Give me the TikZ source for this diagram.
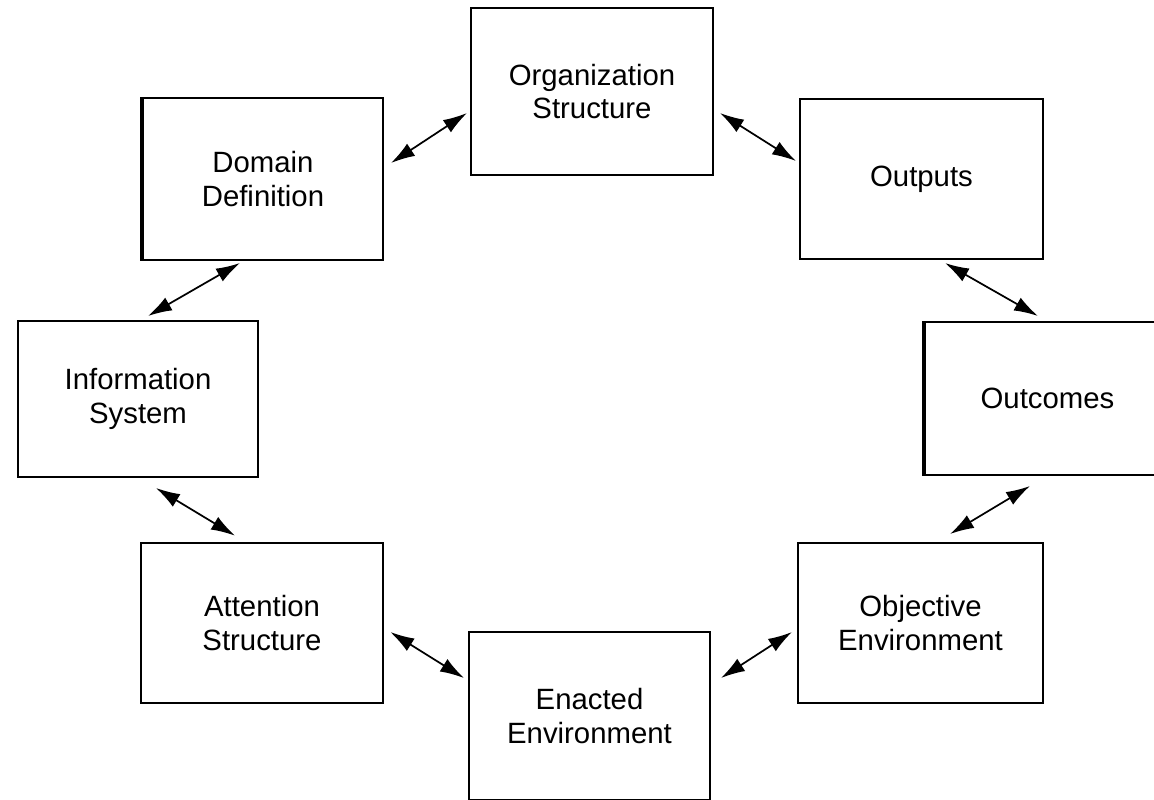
\documentclass[tikz,border=0pt]{standalone}
\usepackage{fontspec}
\setmainfont{Liberation Sans}
\usetikzlibrary{arrows.meta,calc}
\tikzset{
  box/.style={draw, line width=1.5pt, rectangle, inner sep=0pt, align=center,
    font=\fontsize{22}{25}\selectfont},
  tipshape/.tip={Latex[length=18pt,width=11pt]},
  link/.style={tipshape-tipshape, line width=1.3pt},
  thickedge/.style={line width=3pt}
}
\begin{document}
\begin{tikzpicture}[x=0.75pt,y=-0.75pt]
\useasboundingbox (0,0) rectangle (1154,800);
\node[box, minimum width=181.5pt, minimum height=125.25pt] (org) at (592,91.5) {Organization\\Structure};
\node[box, minimum width=180pt, minimum height=121.5pt] (dom) at (263,179) {Domain\\Definition};
\node[box, minimum width=182.25pt, minimum height=120pt] (out) at (921.5,179) {Outputs};
\node[box, minimum width=180pt, minimum height=117pt] (inf) at (138,399) {Information\\System};
\node[box, minimum width=183.75pt, minimum height=114.75pt] (outc) at (1047.5,398.5) {Outcomes};
\node[box, minimum width=181.5pt, minimum height=120pt, line width=2pt] (att) at (262,623) {Attention\\Structure};
\node[box, minimum width=183.75pt, minimum height=120pt] (obj) at (920.5,623) {Objective\\Environment};
\node[box, minimum width=180.75pt, minimum height=126pt] (ena) at (589.5,716) {Enacted\\Environment};
\draw[thickedge] (dom.north west) -- (dom.south west);
\draw[thickedge] (outc.north west) -- (outc.south west);
\draw[link] ($(dom.east)+(7,-16)$) -- ($(org.west)+(-3,21.5)$);
\draw[link] ($(org.east)+(6,21.5)$) -- ($(out.west)+(-3,-18)$);
\draw[link] ($(dom.south)+(-23,2)$) -- ($(inf.north)+(10,-4)$);
\draw[link] ($(out.south)+(23.5,3)$) -- ($(outc.north)+(-9.5,-5)$);
\draw[link] ($(inf.south)+(18,10)$) -- ($(att.north)+(-27,-6)$);
\draw[link] ($(outc.south)+(-17.5,10)$) -- ($(obj.north)+(29.5,-8)$);
\draw[link] ($(att.east)+(6,9)$) -- ($(ena.west)+(-4,-38)$);
\draw[link] ($(obj.west)+(-5,9)$) -- ($(ena.east)+(10,-38)$);
\end{tikzpicture}
\end{document}
